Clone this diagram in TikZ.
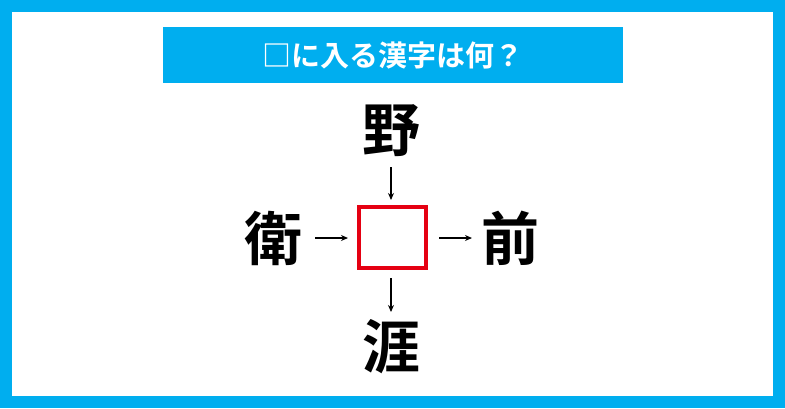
\documentclass[tikz,border=0pt]{standalone}
\usepackage{fontspec}
\newfontfamily\cjk{Noto Sans CJK JP}[BoldFont={* Bold}]
\usetikzlibrary{arrows.meta}
\definecolor{qblue}{HTML}{00AEEF}
\definecolor{qred}{HTML}{E50012}
\begin{document}
\begin{tikzpicture}[x=1pt,y=-1pt,
  kanji/.style={font=\cjk\bfseries\fontsize{58}{58}\selectfont, inner sep=0pt, anchor=center},
  arr/.style={-{Stealth[length=7pt,width=6pt]}, line width=1.2pt, black}]
\useasboundingbox (0,0) rectangle (785,408);
\fill[qblue] (0,0) rectangle (785,408);
\fill[white] (12,12) rectangle (773,396);
\node[fill=qblue, minimum width=460pt, minimum height=56pt, inner sep=0pt, anchor=north west,
  text=white, font=\cjk\bfseries\fontsize{29}{29}\selectfont] (title) at (163,27) {□に入る漢字は何？};
\node[draw=qred, line width=4pt, minimum width=67pt, minimum height=61pt, inner sep=0pt] (box) at (392.5,237.5) {};
\node[kanji] (top) at (391,131) {野};
\node[kanji] (bot) at (391,347) {涯};
\node[kanji] (left) at (273,238) {衛};
\node[kanji] (right) at (510,238) {前};
\coordinate (t1) at (391,167); \coordinate (t2) at (391,200);
\coordinate (b1) at (391,278); \coordinate (b2) at (391,312);
\coordinate (l1) at (315,238); \coordinate (l2) at (348,238);
\coordinate (r1) at (439,238); \coordinate (r2) at (472,238);
\draw[arr] (t1) -- (t2);
\draw[arr] (b1) -- (b2);
\draw[arr] (l1) -- (l2);
\draw[arr] (r1) -- (r2);
\end{tikzpicture}
\end{document}
